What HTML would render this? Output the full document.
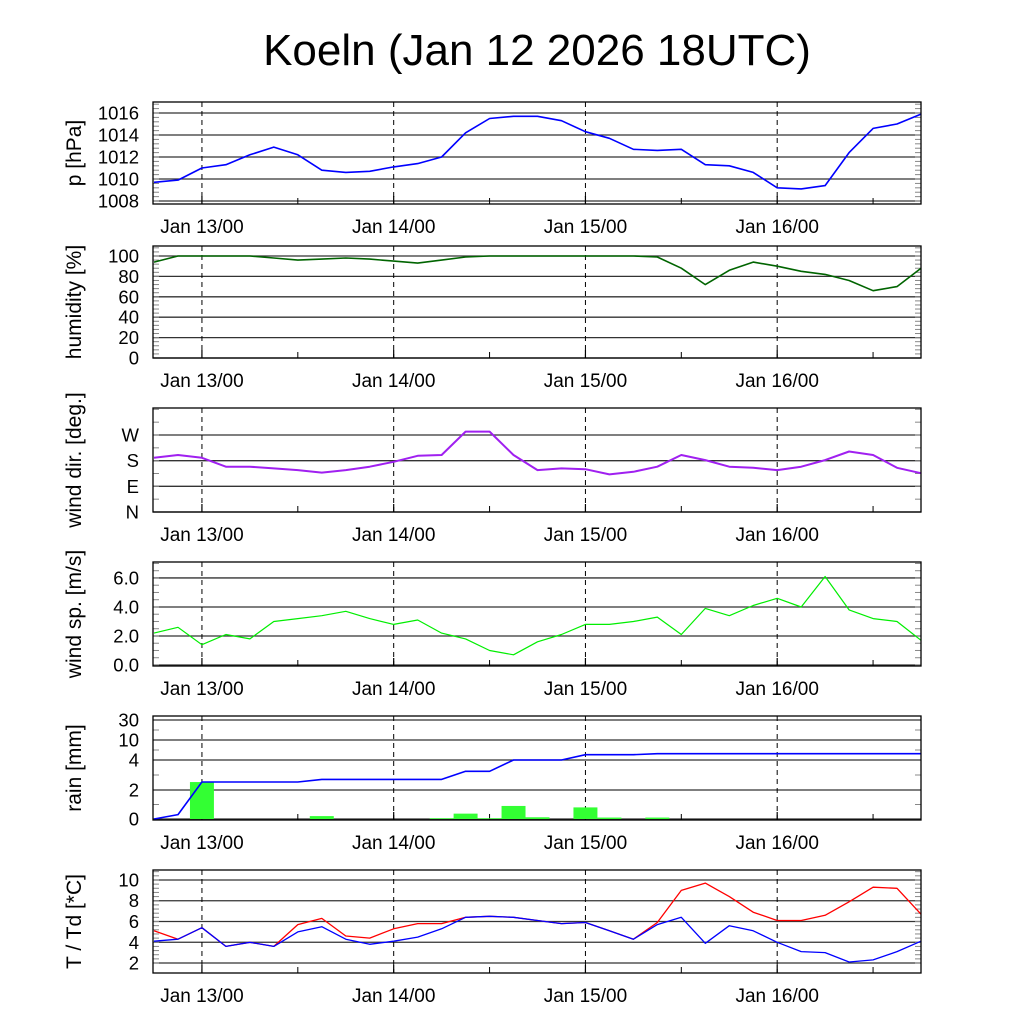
<!DOCTYPE html>
<html><head><meta charset="utf-8"><style>
html,body{margin:0;padding:0;background:#fff;}
svg{display:block;font-family:"Liberation Sans",sans-serif;}
</style></head><body>
<svg id="chart" width="1024" height="1024" viewBox="0 0 1024 1024">
<text x="537" y="65" font-size="44" text-anchor="middle">Koeln (Jan 12 2026 18UTC)</text>
</svg>
<script>
// hours since Jan 12 18UTC, 3-hourly
const hours = [0,3,6,9,12,15,18,21,24,27,30,33,36,39,42,45,48,51,54,57,60,63,66,69,72,75,78,81,84,87,90,93,96];
const pressure = [1009.7,1009.9,1011.0,1011.3,1012.2,1012.9,1012.2,1010.8,1010.6,1010.7,1011.1,1011.4,1012.0,1014.2,1015.5,1015.7,1015.7,1015.3,1014.3,1013.7,1012.7,1012.6,1012.7,1011.3,1011.2,1010.6,1009.2,1009.1,1009.4,1012.4,1014.6,1015.0,1015.9];
const humidity = [94,100,100,100,100,98,96,97,98,97,95,93,96,99,100,100,100,100,100,100,100,99,88,72,86,94,90,85,82,76,66,70,88];
const windDir = [190,200,190,159,159,153,147,138,147,159,176,197,200,282,282,200,147,153,150,132,141,159,200,182,159,155,147,159,182,212,200,155,136];
const windSpeed = [2.2,2.6,1.4,2.1,1.8,3.0,3.2,3.4,3.7,3.2,2.8,3.1,2.2,1.8,1.0,0.7,1.6,2.1,2.8,2.8,3.0,3.3,2.1,3.9,3.4,4.1,4.6,4.0,6.1,3.8,3.2,3.0,1.7];
const rainCum = [0,0.3,2.53,2.53,2.53,2.53,2.53,2.71,2.71,2.71,2.71,2.71,2.71,3.25,3.25,4.0,4.0,4.0,5.6,5.6,5.6,5.9,5.9,5.9,5.9,5.9,5.9,5.9,5.9,5.9,5.9,5.9,5.9];
const rainBarHours = [6,21,36,39,42,45,48,54,57,63];
const rainBarValues = [2.53,0.2,0.05,0.37,0.05,0.9,0.12,0.8,0.1,0.1];
const temp = [5.1,4.3,5.4,3.6,4.0,3.6,5.7,6.3,4.6,4.4,5.3,5.8,5.8,6.4,6.5,6.4,6.1,5.8,5.9,5.1,4.3,5.9,9.0,9.7,8.4,6.9,6.1,6.1,6.6,7.9,9.3,9.2,6.7];
const dewpoint = [4.1,4.3,5.4,3.6,4.0,3.6,5.0,5.5,4.3,3.8,4.1,4.5,5.3,6.4,6.5,6.4,6.1,5.8,5.9,5.1,4.3,5.7,6.4,3.9,5.6,5.1,4.0,3.1,3.0,2.1,2.3,3.1,4.1];
const dayLabels = ["Jan 13/00","Jan 14/00","Jan 15/00","Jan 16/00"];
const dayHours = [6,30,54,78];

const NS="http://www.w3.org/2000/svg";
const svg=document.getElementById('chart');
const X0=154, X1=921, HMAX=96;
function xs(h){return X0+(X1-X0)*h/HMAX;}
function mk(tag,attrs,parent){const e=document.createElementNS(NS,tag);for(const k in attrs)e.setAttribute(k,attrs[k]);(parent||svg).appendChild(e);return e;}

function panel(o){
  const g=mk('g',{});
  
  
  const ys=o.ys;
  o.ticks.forEach((t,i)=>{
    const y=ys(t);
    const l=mk('line',{x1:153,x2:921,y1:y,y2:y,stroke:'#333','stroke-width':1.3},g);
    
    
    const tx=mk('text',{x:139,y:y+6.5,'font-size':18.5,'text-anchor':'end'},g);
    tx.textContent=o.labels[i];
    
    
  });
  (o.minor||[]).forEach(t=>{
    const y=ys(t);
    mk('line',{x1:153,x2:159,y1:y,y2:y,stroke:'#888','stroke-width':1},g);
    mk('line',{x1:915,x2:921,y1:y,y2:y,stroke:'#888','stroke-width':1},g);
  });
  dayHours.forEach((h,i)=>{
    const x=xs(h);
    mk('line',{x1:x,x2:x,y1:o.top,y2:o.bot,stroke:'#000','stroke-width':1,'stroke-dasharray':'5,4'},g);
    mk('line',{x1:x,x2:x,y1:o.bot-8,y2:o.bot,stroke:'#000','stroke-width':1.2},g);
    const tx=mk('text',{x:x,y:o.bot+29,'font-size':19,'text-anchor':'middle'},g);
    tx.textContent=dayLabels[i];
    
    
    const x2=xs(h+12);
    if(x2<921) mk('line',{x1:x2,x2:x2,y1:o.bot-6,y2:o.bot,stroke:'#000','stroke-width':1},g);
  });
  if(o.draw) o.draw(g,ys);
  const fr=mk('rect',{x:153,y:o.top,width:768,height:o.bot-o.top,fill:'none',stroke:'#000','stroke-width':1.3},g);
  
  
  const cy=(o.top+o.bot)/2;
  const yt=mk('text',{x:0,y:0,'font-size':21,'text-anchor':'middle',transform:`translate(81,${cy}) rotate(-90)`},g);
  yt.textContent=o.title;
  
  
}
function lin(top,bot,vmin,vmax){return v=>bot-(v-vmin)/(vmax-vmin)*(bot-top);}
function line(g,vals,ys,color,name,w){
  const d=vals.map((v,i)=>(i?'L':'M')+xs(hours[i]).toFixed(1)+','+ys(v).toFixed(1)).join('');
  const p=mk('path',{d:d,fill:'none',stroke:color,'stroke-width':w||1.6,'stroke-linejoin':'round'},g);
  
  
}
function range(a,b,s){const r=[];for(let v=a;v<=b+1e-9;v+=s)r.push(+v.toFixed(3));return r;}

panel({name:'pressure',top:102,bot:204,ys:lin(102,204,1007.73,1017),ticks:[1008,1010,1012,1014,1016],labels:['1008','1010','1012','1014','1016'],minor:range(1008,1016.8,0.4),title:'p [hPa]',
  draw:(g,ys)=>line(g,pressure,ys,'#0000ff','pressure-line')});
panel({name:'humidity',top:246,bot:358,ys:lin(246,358,0,109.8),ticks:[0,20,40,60,80,100],labels:['0','20','40','60','80','100'],minor:range(0,108,4),title:'humidity [%]',
  draw:(g,ys)=>line(g,humidity,ys,'#006400','humidity-line')});
panel({name:'wind-dir',top:408,bot:512,ys:lin(408,512,0,364.7),ticks:[0,90,180,270],labels:['N','E','S','W'],minor:range(0,360,45),title:'wind dir. [deg.]',
  draw:(g,ys)=>line(g,windDir,ys,'#a020f0','wind-dir-line',2)});
panel({name:'wind-speed',top:562,bot:666,ys:lin(562,666,-0.07,7.1),ticks:[0,2,4,6],labels:['0.0','2.0','4.0','6.0'],minor:range(0,7,0.5),title:'wind sp. [m/s]',
  draw:(g,ys)=>line(g,windSpeed,ys,'#00ee00','wind-speed-line',1.2)});
const rainT=[0,2,4,10,30,40], rainY=[819,790,760,740,720,716];
function rainYs(v){for(let i=0;i<rainT.length-1;i++){if(v<=rainT[i+1])return rainY[i]+(v-rainT[i])/(rainT[i+1]-rainT[i])*(rainY[i+1]-rainY[i]);}return 716;}
panel({name:'rain',top:716,bot:820,ys:rainYs,ticks:[0,2,4,10,30],labels:['0','2','4','10','30'],minor:[1,3,7,20],title:'rain [mm]',
  draw:(g,ys)=>{
    rainBarHours.forEach((h,i)=>{
      const y=ys(rainBarValues[i]);
      const r=mk('rect',{x:xs(h-1.5),y:y,width:xs(h+1.5)-xs(h-1.5),height:819-y,fill:'#33ff33'},g);
      
      
    });
    line(g,rainCum,ys,'#0000ff','rain-cumulative-line');
  }});
panel({name:'temperature',top:870,bot:973,ys:lin(870,973,1.04,10.96),ticks:[2,4,6,8,10],labels:['2','4','6','8','10'],minor:range(2,10.8,0.4),title:'T / Td [*C]',
  draw:(g,ys)=>{line(g,temp,ys,'#ff0000','temperature-line',1.3);line(g,dewpoint,ys,'#0000ff','dewpoint-line',1.3);}});
</script>
</body></html>
